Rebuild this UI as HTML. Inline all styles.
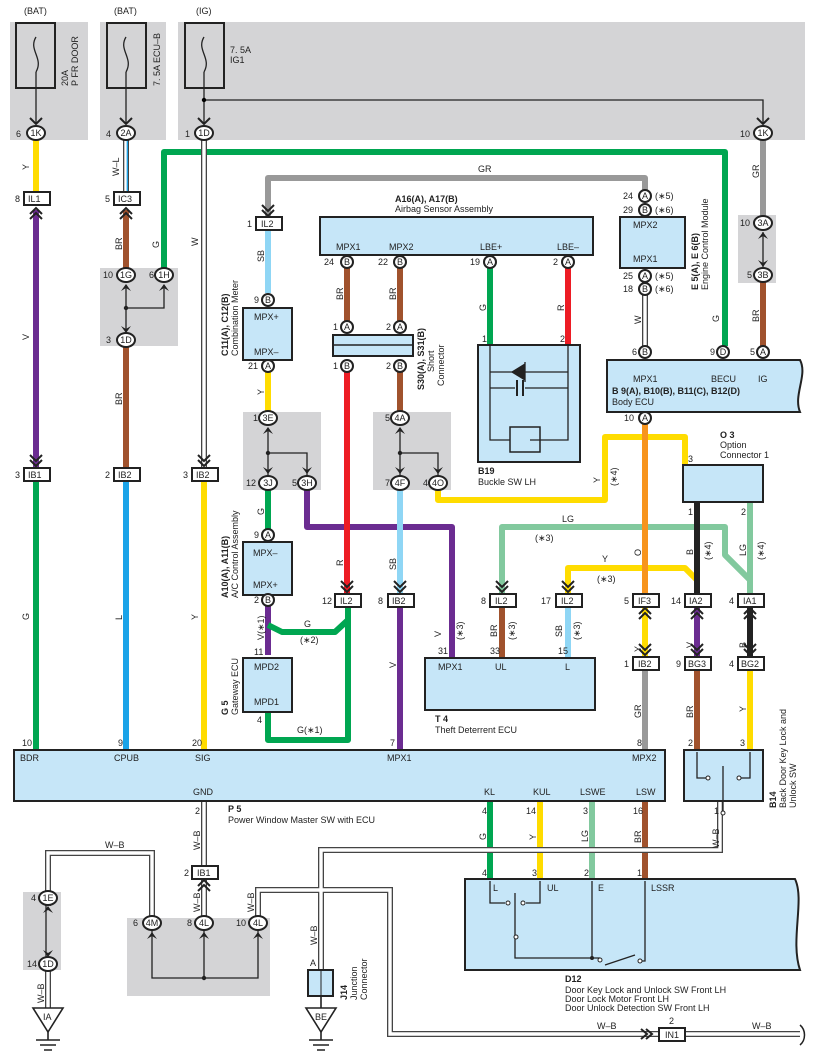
<!DOCTYPE html>
<html><head><meta charset="utf-8"><style>
html,body{margin:0;padding:0;background:#fff}
svg{display:block;font-family:"Liberation Sans",sans-serif}
text{font-size:9px;fill:#222}
.b{font-weight:bold}
.box{fill:#c6e6f8;stroke:#222;stroke-width:2}
.gb{fill:#d4d4d6}
.cn{fill:#fff;stroke:#222;stroke-width:2}
.th{stroke:#222;stroke-width:1.3;fill:none}
</style></head><body>
<svg width="814" height="1062" viewBox="0 0 814 1062" xmlns="http://www.w3.org/2000/svg">
<rect class="gb" x="10" y="22" width="78" height="118"/>
<rect class="gb" x="100" y="22" width="66" height="118"/>
<rect class="gb" x="178" y="22" width="627" height="118"/>
<rect class="gb" x="100" y="268" width="78" height="78"/>
<rect class="gb" x="243" y="412" width="78" height="78"/>
<rect class="gb" x="373" y="412" width="78" height="78"/>
<rect class="gb" x="738" y="215" width="38" height="68"/>
<rect class="gb" x="23" y="892" width="38" height="78"/>
<rect class="gb" x="127" y="918" width="143" height="78"/>
<text x="24" y="14">(BAT)</text><text x="114" y="14">(BAT)</text><text x="196" y="14">(IG)</text>
<g fill="none" stroke="#222" stroke-width="2">
<rect x="16" y="23" width="39" height="65"/><rect x="107" y="23" width="39" height="65"/><rect x="185" y="23" width="39" height="65"/>
</g>
<g fill="none" stroke="#222" stroke-width="1.3">
<path d="M36 37 C28 50 44 58 36 72 M126 37 C118 50 134 58 126 72 M204 37 C196 50 212 58 204 72"/>
<path d="M36 72 V124 M126 72 V124 M204 72 V124 M204 100 H763 V124"/>
</g>
<circle cx="204" cy="100" r="2.2"/>
<text transform="translate(68,86) rotate(-90)">20A</text><text transform="translate(78,86) rotate(-90)">P FR DOOR</text>
<text transform="translate(160,86) rotate(-90)">7. 5A ECU–B</text>
<text x="230" y="53">7. 5A</text><text x="230" y="63">IG1</text>

<g fill="none" stroke-linejoin="round" stroke-width="6">
<path stroke="#ffdc00" d="M36 140 V193"/>
<path stroke="#6b2c91" d="M36 210 V470"/>
<path stroke="#00a651" d="M36 480 V752"/>
<path stroke="#a0522d" d="M126 210 V270 M126 345 V470"/>
<path stroke="#1aa3e8" d="M126 480 V752"/>
<path stroke="#00a651" d="M164 268 V152 H725 V346"/>
<path stroke="#ffdc00" d="M204 480 V752"/>
<path stroke="#999" d="M268 216 V178 H645 V190"/>
<path stroke="#8fd6f5" d="M268 230 V293"/>
<path stroke="#ffdc00" d="M268 372 V412"/>
<path stroke="#00a651" d="M268 490 V530"/>
<path stroke="#6b2c91" d="M268 606 V655"/>
<path stroke="#00a651" d="M268 712 V740 H348 V606 M268 625 L282 632 H335 L348 620"/>
<path stroke="#6b2c91" d="M307 490 V527 H452 V660"/>
<path stroke="#a0522d" d="M347 268 V322 M400 268 V322 M400 372 V412"/>
<path stroke="#ed1c24" d="M347 372 V594"/>
<path stroke="#8fd6f5" d="M400 490 V594"/>
<path stroke="#6b2c91" d="M400 606 V752"/>
<path stroke="#ffdc00" d="M438 490 V500 H605 V437 H685 V466"/>
<path stroke="#00a651" d="M490 268 V345"/>
<path stroke="#ed1c24" d="M568 268 V345"/>
<path stroke="#82c99e" d="M502 594 V527 H725 V555 L750 580 M750 502 V594"/>
<path stroke="#ffdc00" d="M568 594 V568 H685 L697 580"/>
<path stroke="#a0522d" d="M502 606 V660"/>
<path stroke="#8fd6f5" d="M568 606 V660"/>
<path stroke="#999" d="M763 140 V216 M645 668 V752"/>
<path stroke="#a0522d" d="M763 282 V346 M697 668 V752"/>
<path stroke="#f7941d" d="M645 424 V594"/>
<path stroke="#ffdc00" d="M645 606 V658 M750 668 V752"/>
<path stroke="#222" d="M697 502 V594 M750 606 V658"/>
<path stroke="#6b2c91" d="M697 606 V658"/>
<path stroke="#00a651" d="M490 800 V881"/>
<path stroke="#ffdc00" d="M540 800 V881"/>
<path stroke="#82c99e" d="M592 800 V881"/>
<path stroke="#a0522d" d="M645 800 V881"/>
</g>
<g fill="none" stroke-linejoin="miter">
<g stroke="#444" stroke-width="6"><path d="M126 140 V193 M204 140 V470 M645 295 V346 M204 800 V866 M204 878 V918 M48 970 V1008 M48 906 V853 H152 V918 M258 918 V890 H390 V1034 H658 M685 1034 H800 M321 970 V850 H720 V800"/></g>
<g stroke="#fff" stroke-width="3.4"><path d="M126 140 V193 M204 140 V470 M645 295 V346 M204 800 V866 M204 878 V918 M48 970 V1008 M48 906 V853 H152 V918 M258 918 V890 H390 V1034 H658 M685 1034 H800 M321 970 V850 H720 V800"/></g>
<path d="M127.3 140 V193" stroke="#1aa3e8" stroke-width="1.3"/>
</g>
<path class="th" d="M46 905 V958 M152 928 V978 H258 V928 M204 928 V978 M126 285 V333 M126 308 H164 V285 M268 430 V476 M268 453 H307 V476 M400 430 V476 M400 453 H438 V476 M763 232 V267"/>
<g fill="#222"><circle cx="204" cy="978" r="2.2"/><circle cx="126" cy="308" r="2.2"/><circle cx="268" cy="453" r="2.2"/><circle cx="400" cy="453" r="2.2"/></g>

<rect class="box" x="320" y="217" width="273" height="38"/>
<text class="b" x="395" y="202">A16(A), A17(B)</text><text x="395" y="212">Airbag Sensor Assembly</text>
<text x="336" y="250">MPX1</text><text x="389" y="250">MPX2</text><text x="480" y="250">LBE+</text><text x="557" y="250">LBE–</text>
<rect class="box" x="243" y="308" width="49" height="52"/><text x="254" y="320">MPX+</text><text x="254" y="355">MPX–</text>
<text class="b" transform="translate(228,356) rotate(-90)">C11(A), C12(B)</text><text transform="translate(238,356) rotate(-90)">Combination Meter</text>
<rect class="box" x="333" y="335" width="80" height="21"/><line x1="333" y1="345" x2="413" y2="345" stroke="#222" stroke-width="1.5"/>
<text class="b" transform="translate(424,390) rotate(-90)">S30(A), S31(B)</text><text transform="translate(434,372) rotate(-90)">Short</text><text transform="translate(444,386) rotate(-90)">Connector</text>
<rect class="box" x="478" y="345" width="102" height="117"/>
<path class="th" d="M490 345 V440 H510 M530 440 H568 V345 M490 372 H568 M490 388 H515 M525 388 H568"/>
<rect x="510" y="427" width="30" height="25" fill="none" stroke="#222" stroke-width="1.5"/>
<path d="M512 372 L525 364 V380 Z M525 362 V382" stroke="#222" stroke-width="1.3" fill="#222"/>
<path d="M517 380 V396 M523 380 V396" stroke="#222" stroke-width="2"/>
<text class="b" x="478" y="474">B19</text><text x="478" y="485">Buckle SW LH</text>
<rect class="box" x="620" y="217" width="65" height="51"/><text x="633" y="228">MPX2</text><text x="633" y="262">MPX1</text>
<text class="b" transform="translate(698,290) rotate(-90)">E 5(A), E 6(B)</text><text transform="translate(708,290) rotate(-90)">Engine Control Module</text>
<path class="box" d="M607 360 H800 C808 375 793 395 800 412 H607 Z"/>
<text x="633" y="382">MPX1</text><text x="711" y="382">BECU</text><text x="758" y="382">IG</text>
<text class="b" x="612" y="394">B 9(A), B10(B), B11(C), B12(D)</text><text x="612" y="405">Body ECU</text>
<rect class="box" x="243" y="542" width="49" height="53"/><text x="253" y="556">MPX–</text><text x="253" y="588">MPX+</text>
<text class="b" transform="translate(228,598) rotate(-90)">A10(A), A11(B)</text><text transform="translate(238,598) rotate(-90)">A/C Control Assembly</text>
<rect class="box" x="243" y="658" width="49" height="54"/><text x="254" y="670">MPD2</text><text x="254" y="705">MPD1</text>
<text class="b" transform="translate(228,715) rotate(-90)">G 5</text><text transform="translate(238,715) rotate(-90)">Gateway ECU</text>
<rect class="box" x="425" y="658" width="170" height="52"/><text x="438" y="670">MPX1</text><text x="495" y="670">UL</text><text x="565" y="670">L</text>
<text class="b" x="435" y="722">T 4</text><text x="435" y="733">Theft Deterrent ECU</text>
<rect class="box" x="683" y="465" width="80" height="37"/>
<text class="b" x="720" y="438">O 3</text><text x="720" y="448">Option</text><text x="720" y="458">Connector 1</text>
<rect class="box" x="14" y="750" width="651" height="51"/>
<text x="20" y="761">BDR</text><text x="114" y="761">CPUB</text><text x="195" y="761">SIG</text><text x="387" y="761">MPX1</text><text x="632" y="761">MPX2</text>
<text x="193" y="795">GND</text><text x="484" y="795">KL</text><text x="533" y="795">KUL</text><text x="580" y="795">LSWE</text><text x="636" y="795">LSW</text>
<text class="b" x="228" y="812">P 5</text><text x="228" y="823">Power Window Master SW with ECU</text>
<rect class="box" x="684" y="750" width="79" height="51"/>
<path class="th" d="M697 752 V778 H706 M750 752 V778 H741 M723 766 V812"/><circle cx="708" cy="778" r="2" fill="#fff" stroke="#222"/><circle cx="739" cy="778" r="2" fill="#fff" stroke="#222"/><circle cx="723" cy="813" r="2" fill="#fff" stroke="#222"/>
<text class="b" transform="translate(776,808) rotate(-90)">B14</text><text transform="translate(786,808) rotate(-90)">Back Door Key Lock and</text><text transform="translate(796,808) rotate(-90)">Unlock SW</text>
<path class="box" d="M465 879 H795 C805 900 790 940 800 970 H465 Z"/>
<text x="493" y="891">L</text><text x="547" y="891">UL</text><text x="598" y="891">E</text><text x="651" y="891">LSSR</text>
<path class="th" d="M490 881 V903 H505 M540 881 V903 H526 M515 893 V937 V958 H600 M592 881 V958 M645 881 V961 H640 M605 965 L635 955"/>
<g fill="#fff" stroke="#222" stroke-width="1"><circle cx="508" cy="903" r="2"/><circle cx="523" cy="903" r="2"/><circle cx="516" cy="937" r="2"/><circle cx="600" cy="960" r="2"/><circle cx="640" cy="961" r="2"/></g>
<circle cx="592" cy="958" r="2" fill="#222"/>
<text class="b" x="565" y="982">D12</text><text x="565" y="993">Door Key Lock and Unlock SW Front LH</text><text x="565" y="1002">Door Lock Motor Front LH</text><text x="565" y="1011">Door Unlock Detection SW  Front LH</text>
<rect class="box" x="308" y="970" width="25" height="26"/><line x1="321" y1="970" x2="321" y2="996" stroke="#222"/>
<text class="b" transform="translate(347,1000) rotate(-90)">J14</text><text transform="translate(357,1000) rotate(-90)">Junction</text><text transform="translate(367,1000) rotate(-90)">Connector</text><text x="310" y="966">A</text>
<g stroke="#222" stroke-width="1.6" fill="#fff"><path d="M33 1008 H63 L48 1032 Z M306 1008 H336 L321 1032 Z"/><path d="M48 1032 V1040 M36 1040 H60 M40 1045 H56 M44 1050 H52 M321 996 V1008 M321 1032 V1040 M309 1040 H333 M313 1045 H329 M317 1050 H325" fill="none"/></g>
<text x="43" y="1020">IA</text><text x="315" y="1020">BE</text>
<path d="M800 1025 C806 1030 806 1040 800 1045" fill="none" stroke="#222" stroke-width="1.5"/>

<g class="cn">
<ellipse cx="36" cy="133" rx="9" ry="7" class="cn"/><ellipse cx="126" cy="133" rx="9" ry="7" class="cn"/><ellipse cx="204" cy="133" rx="9" ry="7" class="cn"/><ellipse cx="763" cy="133" rx="9" ry="7" class="cn"/>
<ellipse cx="126" cy="275" rx="9" ry="7" class="cn"/><ellipse cx="164" cy="275" rx="9" ry="7" class="cn"/><ellipse cx="126" cy="340" rx="9" ry="7" class="cn"/>
<ellipse cx="268" cy="418" rx="9" ry="7" class="cn"/><ellipse cx="268" cy="483" rx="9" ry="7" class="cn"/><ellipse cx="307" cy="483" rx="9" ry="7" class="cn"/>
<ellipse cx="400" cy="418" rx="9" ry="7" class="cn"/><ellipse cx="400" cy="483" rx="9" ry="7" class="cn"/><ellipse cx="438" cy="483" rx="9" ry="7" class="cn"/>
<ellipse cx="763" cy="223" rx="9" ry="7" class="cn"/><ellipse cx="763" cy="275" rx="9" ry="7" class="cn"/>
<ellipse cx="48" cy="898" rx="9" ry="7" class="cn"/><ellipse cx="48" cy="964" rx="9" ry="7" class="cn"/>
<ellipse cx="152" cy="923" rx="9" ry="7" class="cn"/><ellipse cx="204" cy="923" rx="9" ry="7" class="cn"/><ellipse cx="258" cy="923" rx="9" ry="7" class="cn"/>
<circle cx="268" cy="300" r="6" class="cn"/><circle cx="268" cy="366" r="6" class="cn"/><circle cx="268" cy="535" r="6" class="cn"/><circle cx="268" cy="600" r="6" class="cn"/>
<circle cx="347" cy="262" r="6" class="cn"/><circle cx="400" cy="262" r="6" class="cn"/><circle cx="490" cy="262" r="6" class="cn"/><circle cx="568" cy="262" r="6" class="cn"/>
<circle cx="347" cy="327" r="6" class="cn"/><circle cx="400" cy="327" r="6" class="cn"/><circle cx="347" cy="366" r="6" class="cn"/><circle cx="400" cy="366" r="6" class="cn"/>
<circle cx="645" cy="196" r="6" class="cn"/><circle cx="645" cy="210" r="6" class="cn"/><circle cx="645" cy="276" r="6" class="cn"/><circle cx="645" cy="289" r="6" class="cn"/>
<circle cx="645" cy="352" r="6" class="cn"/><circle cx="723" cy="352" r="6" class="cn"/><circle cx="763" cy="352" r="6" class="cn"/><circle cx="645" cy="418" r="6" class="cn"/>
</g>
<g style="font-size:8px">
<text x="36" y="136" text-anchor="middle">1K</text><text x="126" y="136" text-anchor="middle">2A</text><text x="204" y="136" text-anchor="middle">1D</text><text x="763" y="136" text-anchor="middle">1K</text>
<text x="126" y="278" text-anchor="middle">1G</text><text x="164" y="278" text-anchor="middle">1H</text><text x="126" y="343" text-anchor="middle">1D</text>
<text x="268" y="421" text-anchor="middle">3E</text><text x="268" y="486" text-anchor="middle">3J</text><text x="307" y="486" text-anchor="middle">3H</text>
<text x="400" y="421" text-anchor="middle">4A</text><text x="400" y="486" text-anchor="middle">4F</text><text x="438" y="486" text-anchor="middle">4O</text>
<text x="763" y="226" text-anchor="middle">3A</text><text x="763" y="278" text-anchor="middle">3B</text>
<text x="48" y="901" text-anchor="middle">1E</text><text x="48" y="967" text-anchor="middle">1D</text>
<text x="152" y="926" text-anchor="middle">4M</text><text x="204" y="926" text-anchor="middle">4L</text><text x="258" y="926" text-anchor="middle">4L</text>
<text x="268" y="303" text-anchor="middle">B</text><text x="268" y="369" text-anchor="middle">A</text><text x="268" y="538" text-anchor="middle">A</text><text x="268" y="603" text-anchor="middle">B</text>
<text x="347" y="265" text-anchor="middle">B</text><text x="400" y="265" text-anchor="middle">B</text><text x="490" y="265" text-anchor="middle">A</text><text x="568" y="265" text-anchor="middle">A</text>
<text x="347" y="330" text-anchor="middle">A</text><text x="400" y="330" text-anchor="middle">A</text><text x="347" y="369" text-anchor="middle">B</text><text x="400" y="369" text-anchor="middle">B</text>
<text x="645" y="199" text-anchor="middle">A</text><text x="645" y="213" text-anchor="middle">B</text><text x="645" y="279" text-anchor="middle">A</text><text x="645" y="292" text-anchor="middle">B</text>
<text x="645" y="355" text-anchor="middle">B</text><text x="723" y="355" text-anchor="middle">D</text><text x="763" y="355" text-anchor="middle">A</text><text x="645" y="421" text-anchor="middle">A</text>
</g>
<g fill="#fff" stroke="#222" stroke-width="2">
<rect x="24" y="192" width="26" height="13"/><rect x="114" y="192" width="26" height="13"/><rect x="256" y="217" width="26" height="13"/>
<rect x="24" y="468" width="26" height="13"/><rect x="114" y="468" width="26" height="13"/><rect x="192" y="468" width="26" height="13"/>
<rect x="335" y="594" width="26" height="13"/><rect x="388" y="594" width="26" height="13"/><rect x="490" y="594" width="26" height="13"/><rect x="556" y="594" width="26" height="13"/>
<rect x="633" y="594" width="26" height="13"/><rect x="685" y="594" width="26" height="13"/><rect x="738" y="594" width="26" height="13"/>
<rect x="633" y="657" width="26" height="13"/><rect x="685" y="657" width="26" height="13"/><rect x="738" y="657" width="26" height="13"/>
<rect x="192" y="866" width="26" height="13"/><rect x="659" y="1028" width="26" height="13"/>
</g>
<g style="font-size:8.5px">
<text x="28" y="202">IL1</text><text x="118" y="202">IC3</text><text x="261" y="227">IL2</text>
<text x="28" y="478">IB1</text><text x="118" y="478">IB2</text><text x="196" y="478">IB2</text>
<text x="340" y="604">IL2</text><text x="392" y="604">IB2</text><text x="495" y="604">IL2</text><text x="561" y="604">IL2</text>
<text x="638" y="604">IF3</text><text x="689" y="604">IA2</text><text x="743" y="604">IA1</text>
<text x="638" y="667">IB2</text><text x="688" y="667">BG3</text><text x="741" y="667">BG2</text>
<text x="197" y="876">IB1</text><text x="665" y="1038">IN1</text>
</g>
<g style="font-size:8.5px">
<text x="16" y="137">6</text><text x="106" y="137">4</text><text x="185" y="137">1</text><text x="740" y="137">10</text>
<text x="15" y="202">8</text><text x="105" y="202">5</text><text x="247" y="227">1</text>
<text x="15" y="478">3</text><text x="105" y="478">2</text><text x="183" y="478">3</text>
<text x="103" y="278">10</text><text x="149" y="278">6</text><text x="106" y="343">3</text>
<text x="254" y="303">9</text><text x="248" y="369">21</text><text x="253" y="421">1</text><text x="246" y="486">12</text><text x="292" y="486">5</text>
<text x="254" y="538">9</text><text x="254" y="603">2</text><text x="254" y="655">11</text><text x="257" y="723">4</text>
<text x="324" y="265">24</text><text x="378" y="265">22</text><text x="470" y="265">19</text><text x="553" y="265">2</text>
<text x="333" y="330">1</text><text x="386" y="330">2</text><text x="333" y="369">1</text><text x="386" y="369">2</text>
<text x="385" y="421">5</text><text x="385" y="486">7</text><text x="423" y="486">4</text>
<text x="482" y="342">1</text><text x="560" y="342">2</text>
<text x="623" y="199">24</text><text x="623" y="213">29</text><text x="623" y="279">25</text><text x="623" y="292">18</text>
<text x="655" y="199">(∗5)</text><text x="655" y="213">(∗6)</text><text x="655" y="279">(∗5)</text><text x="655" y="292">(∗6)</text>
<text x="632" y="355">6</text><text x="710" y="355">9</text><text x="750" y="355">5</text><text x="624" y="421">10</text>
<text x="740" y="226">10</text><text x="747" y="278">5</text>
<text x="688" y="462">3</text><text x="688" y="515">1</text><text x="741" y="515">2</text>
<text x="322" y="604">12</text><text x="378" y="604">8</text><text x="481" y="604">8</text><text x="541" y="604">17</text>
<text x="624" y="604">5</text><text x="671" y="604">14</text><text x="729" y="604">4</text>
<text x="624" y="667">1</text><text x="676" y="667">9</text><text x="729" y="667">4</text>
<text x="438" y="654">31</text><text x="490" y="654">33</text><text x="558" y="654">15</text>
<text x="22" y="746">10</text><text x="118" y="746">9</text><text x="192" y="746">20</text><text x="390" y="746">7</text><text x="637" y="746">8</text>
<text x="688" y="746">2</text><text x="740" y="746">3</text>
<text x="195" y="814">2</text><text x="482" y="814">4</text><text x="526" y="814">14</text><text x="583" y="814">3</text><text x="633" y="814">16</text><text x="714" y="814">1</text>
<text x="482" y="876">4</text><text x="532" y="876">3</text><text x="584" y="876">2</text><text x="637" y="876">1</text>
<text x="184" y="876">2</text><text x="31" y="901">4</text><text x="27" y="967">14</text>
<text x="133" y="926">6</text><text x="187" y="926">8</text><text x="236" y="926">10</text><text x="669" y="1024">2</text>
</g>
<g style="font-size:8.5px">
<text transform="translate(29,170) rotate(-90)">Y</text><text transform="translate(29,340) rotate(-90)">V</text><text transform="translate(29,620) rotate(-90)">G</text>
<text transform="translate(119,176) rotate(-90)">W–L</text><text transform="translate(122,250) rotate(-90)">BR</text><text transform="translate(122,405) rotate(-90)">BR</text><text transform="translate(122,620) rotate(-90)">L</text>
<text transform="translate(159,248) rotate(-90)">G</text><text transform="translate(198,246) rotate(-90)">W</text><text transform="translate(198,620) rotate(-90)">Y</text>
<text x="478" y="172">GR</text><text transform="translate(264,262) rotate(-90)">SB</text><text transform="translate(264,395) rotate(-90)">Y</text><text transform="translate(264,515) rotate(-90)">G</text>
<text transform="translate(264,640) rotate(-90)">V(∗1)</text><text x="304" y="627">G</text><text x="300" y="643">(∗2)</text><text x="297" y="733">G(∗1)</text>
<text transform="translate(343,300) rotate(-90)">BR</text><text transform="translate(396,300) rotate(-90)">BR</text><text transform="translate(343,566) rotate(-90)">R</text><text transform="translate(396,570) rotate(-90)">SB</text><text transform="translate(396,668) rotate(-90)">V</text>
<text transform="translate(486,311) rotate(-90)">G</text><text transform="translate(564,311) rotate(-90)">R</text>
<text transform="translate(441,637) rotate(-90)">V</text><text transform="translate(463,640) rotate(-90)">(∗3)</text>
<text transform="translate(497,637) rotate(-90)">BR</text><text transform="translate(515,640) rotate(-90)">(∗3)</text>
<text transform="translate(562,637) rotate(-90)">SB</text><text transform="translate(580,640) rotate(-90)">(∗3)</text>
<text x="562" y="522">LG</text><text x="535" y="541">(∗3)</text><text x="602" y="562">Y</text><text x="597" y="582">(∗3)</text>
<text transform="translate(600,483) rotate(-90)">Y</text><text transform="translate(617,486) rotate(-90)">(∗4)</text>
<text transform="translate(641,324) rotate(-90)">W</text><text transform="translate(719,322) rotate(-90)">G</text><text transform="translate(759,322) rotate(-90)">BR</text><text transform="translate(759,178) rotate(-90)">GR</text>
<text transform="translate(641,556) rotate(-90)">O</text><text transform="translate(693,555) rotate(-90)">B</text><text transform="translate(711,560) rotate(-90)">(∗4)</text>
<text transform="translate(746,556) rotate(-90)">LG</text><text transform="translate(764,560) rotate(-90)">(∗4)</text>
<text transform="translate(641,652) rotate(-90)">Y</text><text transform="translate(693,648) rotate(-90)">V</text><text transform="translate(746,648) rotate(-90)">B</text>
<text transform="translate(641,718) rotate(-90)">GR</text><text transform="translate(693,718) rotate(-90)">BR</text><text transform="translate(746,712) rotate(-90)">Y</text>
<text transform="translate(486,840) rotate(-90)">G</text><text transform="translate(536,840) rotate(-90)">Y</text><text transform="translate(588,842) rotate(-90)">LG</text><text transform="translate(641,843) rotate(-90)">BR</text>
<text transform="translate(200,850) rotate(-90)">W–B</text><text transform="translate(200,912) rotate(-90)">W–B</text><text transform="translate(254,912) rotate(-90)">W–B</text>
<text transform="translate(44,1003) rotate(-90)">W–B</text><text x="105" y="848">W–B</text><text transform="translate(317,945) rotate(-90)">W–B</text>
<text transform="translate(719,848) rotate(-90)">W–B</text><text x="597" y="1029">W–B</text><text x="752" y="1029">W–B</text>
</g>
<g fill="none" stroke="#222" stroke-width="2">
<path d="M30 118 L36 124 L42 118 M120 118 L126 124 L132 118 M198 118 L204 124 L210 118 M757 118 L763 124 L769 118"/>
<path d="M30 214 L36 208 L42 214 M30 219 L36 213 L42 219 M120 214 L126 208 L132 214 M120 219 L126 213 L132 219"/>
<path d="M30 460 L36 466 L42 460 M30 455 L36 461 L42 455 M198 460 L204 466 L210 460 M198 455 L204 461 L210 455"/>
<path d="M262 210 L268 216 L274 210 M262 205 L268 211 L274 205 M341 586 L347 592 L353 586 M341 581 L347 587 L353 581 M394 586 L400 592 L406 586 M394 581 L400 587 L406 581"/>
<path d="M496 586 L502 592 L508 586 M496 581 L502 587 L508 581 M562 586 L568 592 L574 586 M562 581 L568 587 L574 581"/>
<path d="M639 614 L645 608 L651 614 M639 619 L645 613 L651 619 M691 614 L697 608 L703 614 M691 619 L697 613 L703 619 M744 614 L750 608 L756 614 M744 619 L750 613 L756 619"/>
<path d="M639 649 L645 655 L651 649 M639 644 L645 650 L651 644 M691 649 L697 655 L703 649 M691 644 L697 650 L703 644 M744 649 L750 655 L756 649 M744 644 L750 650 L756 644"/>
<path d="M198 886 L204 880 L210 886 M198 891 L204 885 L210 891 M646 1029 L652 1034 L646 1039 M641 1029 L647 1034 L641 1039"/>
</g>
<g fill="#222"><path d="M121 291 L126 284 L131 291 L126 288Z M159 291 L164 284 L169 291 L164 288Z M121 326 L126 333 L131 326 L126 329Z M263 434 L268 427 L273 434 L268 431Z M263 467 L268 474 L273 467 L268 470Z M302 467 L307 474 L312 467 L307 470Z M395 434 L400 427 L405 434 L400 431Z M395 467 L400 474 L405 467 L400 470Z M433 467 L438 474 L443 467 L438 470Z M758 239 L763 232 L768 239 L763 236Z M758 260 L763 267 L768 260 L763 263Z M43 913 L48 906 L53 913 L48 910Z M43 950 L48 957 L53 950 L48 953Z M147 939 L152 932 L157 939 L152 936Z M199 939 L204 932 L209 939 L204 936Z M253 939 L258 932 L263 939 L258 936Z"/></g>
</svg>
</body></html>
